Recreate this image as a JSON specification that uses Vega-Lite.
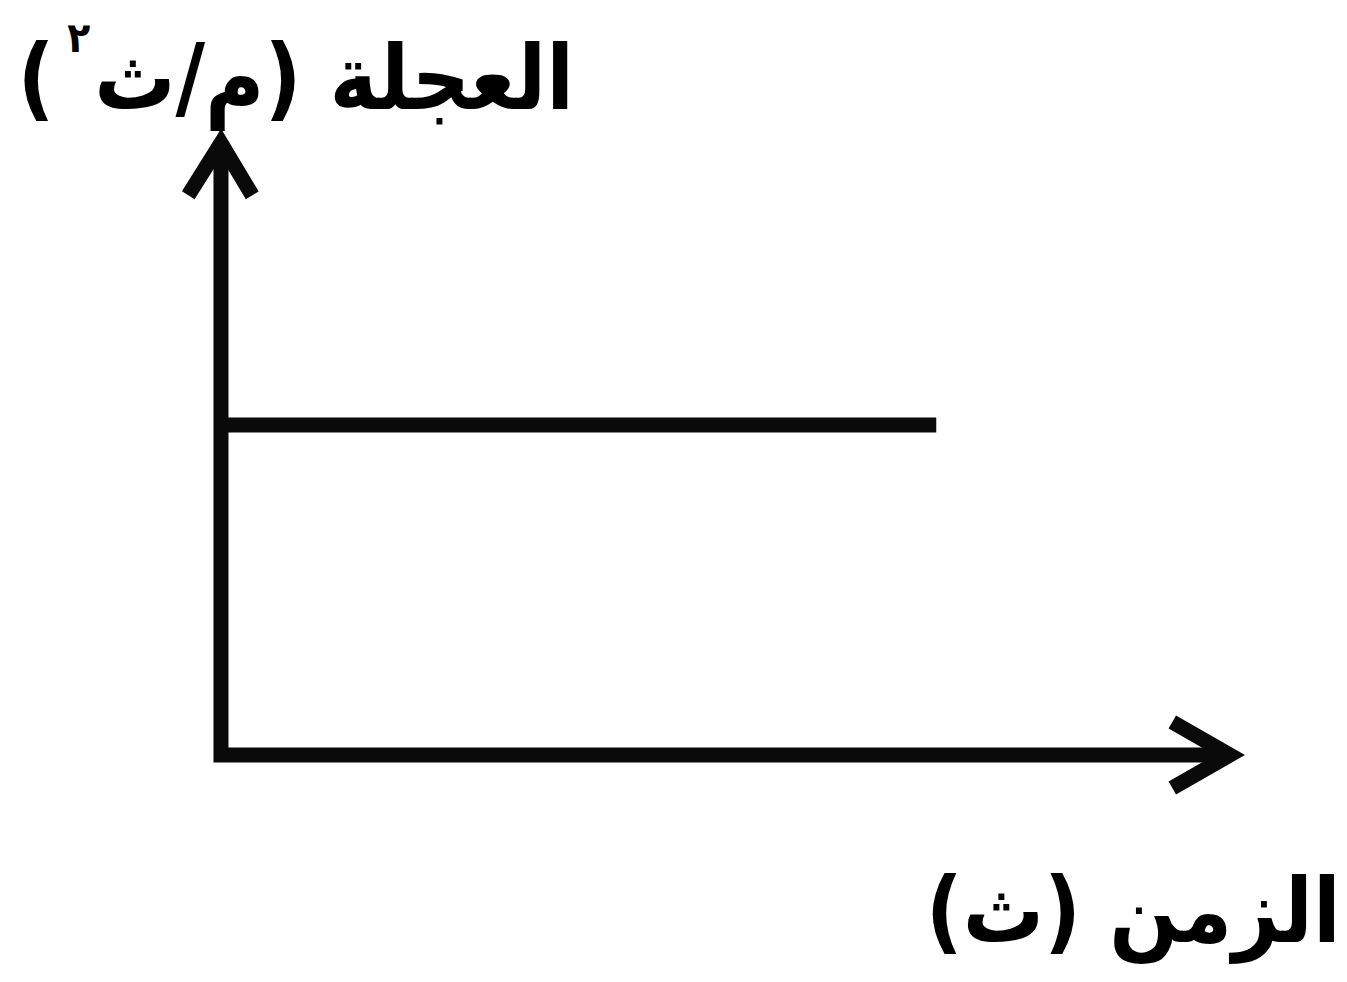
{
  "$schema": "https://vega.github.io/schema/vega-lite/v6.json",
  "width": 1347,
  "height": 982,
  "padding": 0,
  "autosize": {"type": "fit", "contains": "padding"},
  "background": "white",
  "config": {"view": {"stroke": null}},
  "encoding": {
    "x": {"field": "t", "type": "quantitative", "axis": null, "scale": {"domain": [-3.108, 15.837], "nice": false, "zero": false}},
    "y": {"field": "a", "type": "quantitative", "axis": null, "scale": {"domain": [-3.439, 11.439], "nice": false, "zero": false}}
  },
  "layer": [
    {
      "data": {"values": [
        {"part": "axes", "ord": 1, "t": 0, "a": 9.3},
        {"part": "axes", "ord": 2, "t": 0, "a": 0},
        {"part": "axes", "ord": 3, "t": 14.2, "a": 0},
        {"part": "yarrow", "ord": 1, "t": -0.46, "a": 8.48},
        {"part": "yarrow", "ord": 2, "t": 0, "a": 9.27},
        {"part": "yarrow", "ord": 3, "t": 0.44, "a": 8.48},
        {"part": "xarrow", "ord": 1, "t": 13.38, "a": 0.5},
        {"part": "xarrow", "ord": 2, "t": 14.19, "a": 0},
        {"part": "xarrow", "ord": 3, "t": 13.38, "a": -0.5},
        {"part": "acc", "ord": 1, "t": 0, "a": 5},
        {"part": "acc", "ord": 2, "t": 10.06, "a": 5}
      ]},
      "mark": {"type": "line", "color": "#0a0a0a", "strokeWidth": 15, "strokeJoin": "miter", "strokeCap": "butt", "strokeMiterLimit": 10},
      "encoding": {
        "detail": {"field": "part", "type": "nominal"},
        "order": {"field": "ord", "type": "quantitative"}
      }
    },
    {
      "data": {"values": [
        {"label": "العجلة (م/ث", "t": 1.59, "a": 10.2, "size": "big"},
        {"label": "(", "t": -2.6, "a": 10.2, "size": "big"},
        {"label": "٢", "t": -2.0, "a": 10.85, "size": "small"},
        {"label": "الزمن (ث)", "t": 12.83, "a": -2.42, "size": "big"}
      ]},
      "mark": {"type": "text", "font": "DejaVu Sans Condensed", "fontWeight": "bold", "color": "#000000", "baseline": "middle", "align": "center"},
      "encoding": {
        "text": {"field": "label", "type": "nominal"},
        "size": {"field": "size", "type": "nominal", "scale": {"domain": ["big", "small"], "range": [90, 42]}, "legend": null}
      }
    }
  ]
}
